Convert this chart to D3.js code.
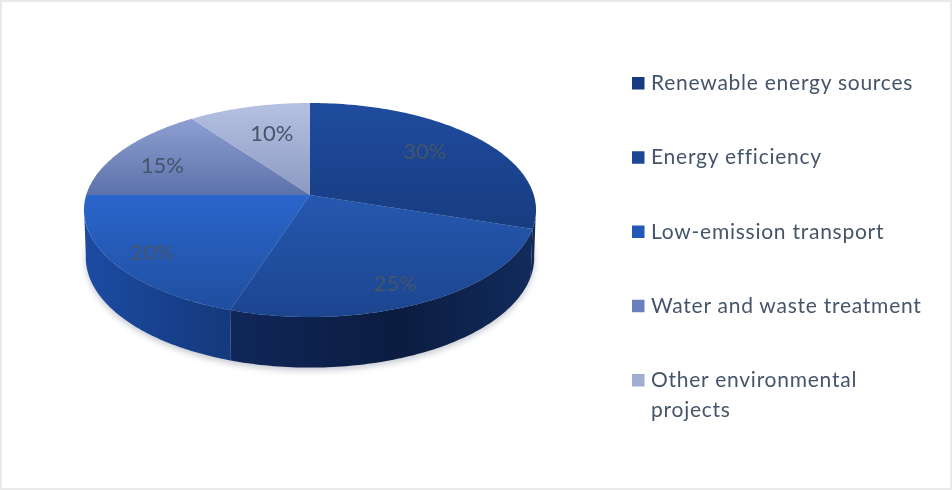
<!DOCTYPE html>
<html><head><meta charset="utf-8">
<style>html,body{margin:0;padding:0;background:#fff}svg{display:block}</style>
<script src="https://cdn.jsdelivr.net/npm/d3@7"></script>
</head><body><svg id="c" width="952" height="490"></svg>
<script>
const categories = ["Renewable energy sources","Energy efficiency","Low-emission transport","Water and waste treatment","Other environmental projects"];
const values = [30,25,20,15,10];
const topFrom = ["#1f4c9f","#2558b0","#2b66cc","#8d9fd2","#b6c1e2"];
const topTo   = ["#173c80","#1c458f","#1f4e9f","#5d72aa","#8b9ac2"];
const wallFrom = ["#12295a","#10275a","#1c4ba2"];
const wallTo   = ["#10264f","#122b5c","#14397c"];
const legendColors = ["#173a80","#1c4796","#2058b8","#6a80bc","#a0aed2"];

const svg = d3.select("#c");
const defs = svg.append("defs");
const blur = defs.append("filter").attr("id","soft").attr("x","-10%").attr("y","-10%").attr("width","120%").attr("height","120%");
blur.append("feGaussianBlur").attr("stdDeviation",0.55);
const shadowF = defs.append("filter").attr("id","shadow").attr("x","-10%").attr("y","-10%").attr("width","120%").attr("height","130%");
shadowF.append("feGaussianBlur").attr("stdDeviation",3);

svg.append("rect").attr("x",1).attr("y",1).attr("width",950).attr("height",488)
  .attr("fill","#fff").attr("stroke","#e9e9e9").attr("stroke-width",2);

// perspective projection of the unit disc
const k = 0.14;
const project = (cx,cy,B,A) => (r,a) => {
  const u = r*Math.sin(a), v = -r*Math.cos(a), d = 1-k*v;
  return [cx+B*u/d, cy+A*v/d];
};
const topP = project(310,195,223.8,104.9);
const botP = project(310,242,222,108);

const pie = d3.pie().sort(null).value(d=>d);
const arcs = pie(values);
const rim = (P,a0,a1,n=90) => d3.range(n+1).map(i=>P(1,a0+(a1-a0)*i/n));
const line = d3.line();

// soft shadow below the base
const full = rim(botP,0,2*Math.PI,180);
svg.append("path").attr("d",line(full)+"Z").attr("fill","#5a6478").attr("opacity",0.35)
  .attr("transform","translate(0,3)").attr("filter","url(#shadow)");

// walls
const visMin = Math.acos(-k), visMax = 2*Math.PI-visMin;
const walls = arcs.slice(0,3).map((s,i)=>({i,a0:Math.max(s.startAngle,visMin-0.02),a1:Math.min(s.endAngle,visMax+0.02)}));
walls.forEach(w=>{
  const g = defs.append("linearGradient").attr("id","w"+w.i).attr("x1",w.i==0?0:1).attr("x2",w.i==0?1:0).attr("y1",0).attr("y2",0);
  g.append("stop").attr("offset",0).attr("stop-color",wallTo[w.i]);
  if(w.i==1) g.append("stop").attr("offset",0.45).attr("stop-color","#0b1c40");
  g.append("stop").attr("offset",1).attr("stop-color",wallFrom[w.i]);
});
svg.append("g").selectAll("path").data(walls).join("path")
  .attr("d",w=>line(rim(topP,w.a0,w.a1).concat(rim(botP,w.a1,w.a0)))+"Z")
  .attr("fill",w=>`url(#w${w.i})`);

// top slices
arcs.forEach((s,i)=>{
  const g = defs.append("linearGradient").attr("id","t"+i).attr("x1",0).attr("x2",0).attr("y1",0).attr("y2",1);
  g.append("stop").attr("offset",0).attr("stop-color",topFrom[i]);
  g.append("stop").attr("offset",1).attr("stop-color",topTo[i]);
});
svg.append("g").selectAll("path").data(arcs).join("path")
  .attr("d",s=>line([topP(0,0)].concat(rim(topP,s.startAngle,s.endAngle)))+"Z")
  .attr("fill",(s,i)=>`url(#t${i})`);

// data labels
const labelR = [0.7,0.8,0.8,0.75,0.7];
const labelNudge = [[-5,-3],[-5,5],[-3,4],[-5,4],[6,2]];
svg.append("g").attr("filter","url(#soft)").selectAll("text").data(arcs).join("text")
  .attr("transform",(s,i)=>{const p=topP(labelR[i],(s.startAngle+s.endAngle)/2);return `translate(${p[0]+labelNudge[i][0]},${p[1]+labelNudge[i][1]})`;})
  .attr("text-anchor","middle").attr("dy","0.36em")
  .attr("font-family","Lato").attr("font-size",22)
  .attr("fill","#44546a").text(s=>s.data+"%");

// legend
const legendY = d3.scalePoint().domain(categories).range([83,380]);
const leg = svg.append("g").attr("filter","url(#soft)").selectAll("g").data(categories).join("g")
  .attr("transform",d=>`translate(632,${legendY(d)})`);
leg.append("rect").attr("x",0).attr("y",-6).attr("width",12.5).attr("height",12.5)
  .attr("fill",(d,i)=>legendColors[i]);
leg.each(function(d){
  const lines = d==="Other environmental projects" ? ["Other environmental","projects"] : [d];
  d3.select(this).selectAll("text").data(lines).join("text")
    .attr("x",19).attr("y",(l,i)=>i*30).attr("dy","0.34em")
    .attr("font-family","Lato").attr("font-size",21).attr("letter-spacing",0.75)
    .attr("fill","#44546a").text(l=>l);
});
</script></body></html>
